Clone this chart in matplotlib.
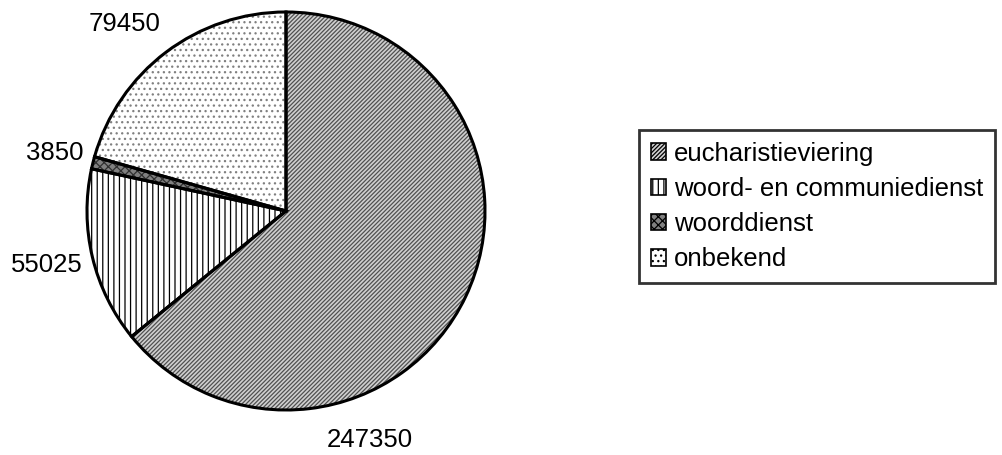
import matplotlib.pyplot as plt
from matplotlib.patches import Patch

plt.rcParams['font.family'] = ['Liberation Sans', 'DejaVu Sans']
plt.rcParams['hatch.linewidth'] = 0.9

# data
categories = ['eucharistieviering', 'woord- en communiedienst', 'woorddienst', 'onbekend']
values = [247350, 55025, 3850, 79450]

# styles (fill, hatch, hatch colour)
fills = ['#d0d0d0', 'white', '#808080', 'white']
hatches = ['////////', '|||', 'xxxx', '...']
hatch_colors = ['#505050', 'black', '#303030', '#808080']
# label positions in pie radius units (as placed in the original chart)
label_pos = [(0.42, -1.15), (-1.20, -0.27), (-1.16, 0.29), (-0.81, 0.94)]

fig = plt.figure(figsize=(10.02, 4.55), dpi=100)
ax = fig.add_axes([0, 0, 1, 1])

# hatched fills
wedges, _ = ax.pie(values, startangle=90, counterclock=False, radius=1,
                   colors=fills, wedgeprops=dict(linewidth=0))
for w, h, hc in zip(wedges, hatches, hatch_colors):
    w.set_hatch(h)
    w.set_edgecolor(hc)

# black outlines
ax.pie(values, startangle=90, counterclock=False, radius=1,
       colors=['none'] * len(values),
       wedgeprops=dict(linewidth=2.2, edgecolor='black', fill=False))

for v, (x, y) in zip(values, label_pos):
    ax.text(x, y, str(v), ha='center', va='center', fontsize=18.5)

ax.set_xlim(-286 / 199, (1002 - 286) / 199)
ax.set_ylim(-244 / 199, 211 / 199)
ax.set_aspect('auto')
ax.axis('off')

handles = [Patch(facecolor=f, hatch=h, edgecolor='black', linewidth=1.2)
           for f, h in zip(fills, hatches)]
leg = ax.legend(handles, categories, loc='upper left',
                bbox_to_anchor=(639 / 1002, 325 / 455), bbox_transform=fig.transFigure,
                fontsize=18.5, frameon=True, fancybox=False, borderaxespad=0,
                handlelength=0.6, handleheight=0.6, handletextpad=0.3,
                borderpad=0.45, labelspacing=0.44)
leg.get_frame().set_edgecolor('black')
leg.get_frame().set_linewidth(2)

fig.savefig('out.png', dpi=100)
